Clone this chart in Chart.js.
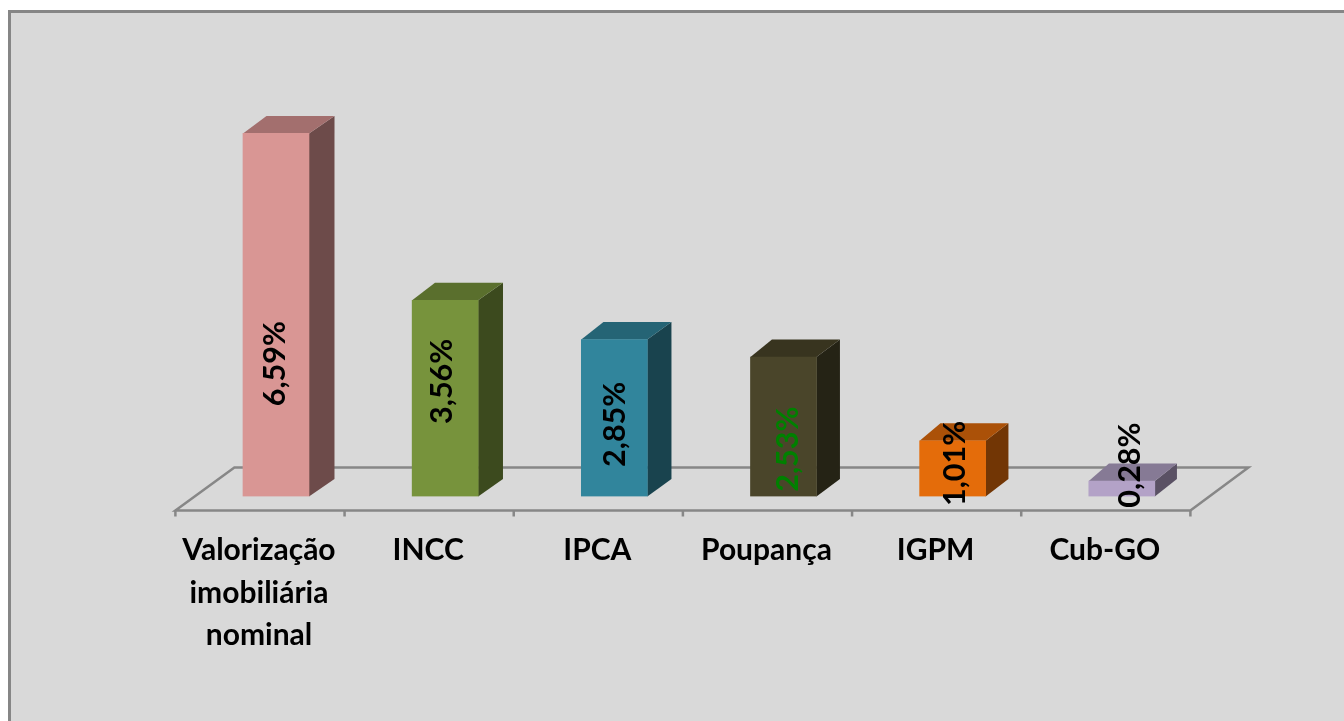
<!DOCTYPE html>
<html>
<head>
<meta charset="utf-8">
<script src="https://cdn.jsdelivr.net/npm/chart.js@4"></script>
<style>
html, body { margin: 0; padding: 0; background: #fff; overflow: hidden; }
#panel { position: absolute; left: 8px; top: 10px; width: 1336px; height: 711px; box-sizing: border-box;
  background: #d9d9d9; border-left: 3px solid #868686; border-top: 3px solid #868686; }
#c { position: absolute; left: 0; top: 0; }
</style>
</head>
<body>
<div id="panel"></div>
<canvas id="c" width="1344" height="721"></canvas>
<script>
const categories = [["Valorização", "imobiliária", "nominal"], "INCC", "IPCA", "Poupança", "IGPM", "Cub-GO"];
const values = [6.59, 3.56, 2.85, 2.53, 1.01, 0.28];

const frontColors = ["#d99694", "#77933c", "#31859c", "#4a452a", "#e46c0a", "#b3a2c7"];
const topColors = ["#a36f6e", "#5a6f2d", "#256475", "#38341f", "#ab5108", "#867a95"];
const sideColors = ["#6d4b4a", "#3c4a1e", "#19434e", "#252315", "#723605", "#5a5164"];
const labelColors = ["#000", "#000", "#000", "#008000", "#000", "#000"];
// where the rotated labels sit, they were dragged by hand in the original
const labelLevels = [2.41, 2.09, 1.31, 0.86, 0.6, 0.57];
const labelShiftX = [-1, -3, 1, 5, 3, 8];

const FONT = "Lato, Carlito, sans-serif";
const FLOOR_SHIFT = 16; // the floor and labels sit left of the bars

const chart3d = {
    id: 'chart3d',
    beforeDatasetsDraw(chart) {
        const ctx = chart.ctx;
        const x = chart.scales.x;
        const left = x.left - FLOOR_SHIFT;
        const right = x.right - FLOOR_SHIFT;
        const front = chart.chartArea.bottom + 14;
        const back = front - 43;

        ctx.save();
        ctx.strokeStyle = '#878787';
        ctx.lineWidth = 2.5;
        ctx.beginPath();
        ctx.moveTo(left, front);
        ctx.lineTo(left + 59, back);
        ctx.lineTo(right + 58, back);
        ctx.lineTo(right, front);
        ctx.closePath();
        ctx.stroke();
        // tick marks between the categories
        ctx.beginPath();
        for (let i = 0; i <= categories.length; i++) {
            const tx = left + (right - left) * i / categories.length;
            ctx.moveTo(tx, front);
            ctx.lineTo(tx, front + 6);
        }
        ctx.stroke();

        // side and top faces of the boxes
        chart.getDatasetMeta(0).data.forEach((bar, i) => {
            const l = bar.x - bar.width / 2;
            const r = bar.x + bar.width / 2;
            const dx = 25.5 - (bar.x - 276) * 0.004;
            const dy = 17.5;
            ctx.fillStyle = sideColors[i];
            ctx.beginPath();
            ctx.moveTo(r, bar.y);
            ctx.lineTo(r + dx, bar.y - dy);
            ctx.lineTo(r + dx, bar.base - dy);
            ctx.lineTo(r, bar.base);
            ctx.closePath();
            ctx.fill();
            ctx.fillStyle = topColors[i];
            ctx.beginPath();
            ctx.moveTo(l, bar.y);
            ctx.lineTo(l + dx - 2, bar.y - dy);
            ctx.lineTo(r + dx, bar.y - dy);
            ctx.lineTo(r, bar.y);
            ctx.closePath();
            ctx.fill();
        });
        ctx.restore();
    },
    afterDatasetsDraw(chart) {
        const ctx = chart.ctx;
        const y = chart.scales.y;
        ctx.save();
        ctx.font = "bold 30.5px " + FONT;
        ctx.textAlign = 'center';
        ctx.textBaseline = 'middle';
        chart.getDatasetMeta(0).data.forEach((bar, i) => {
            ctx.save();
            ctx.translate(bar.x + labelShiftX[i], y.getPixelForValue(labelLevels[i]));
            ctx.rotate(-Math.PI / 2);
            ctx.fillStyle = labelColors[i];
            ctx.fillText(values[i].toFixed(2).replace('.', ',') + '%', 0, 0);
            ctx.restore();
        });
        ctx.restore();
    }
};

new Chart(document.getElementById('c'), {
    type: 'bar',
    data: {
        labels: categories,
        datasets: [{
            data: values,
            backgroundColor: frontColors,
            barThickness: 66
        }]
    },
    options: {
        responsive: false,
        animation: false,
        layout: { padding: { left: 191.4, right: 137.6, top: 110.8, bottom: 0 } },
        plugins: { legend: { display: false }, tooltip: { enabled: false } },
        scales: {
            y: { display: false, min: 0, max: 7 },
            x: {
                afterFit: s => { s.height = 224.5; },
                border: { display: false },
                grid: { display: false },
                ticks: {
                    color: '#000',
                    labelOffset: -FLOOR_SHIFT - 1,
                    padding: 24,
                    maxRotation: 0,
                    autoSkip: false,
                    font: { family: FONT, size: 30, weight: 'bold', lineHeight: 1.43 }
                }
            }
        }
    },
    plugins: [chart3d]
});
</script>
</body>
</html>
